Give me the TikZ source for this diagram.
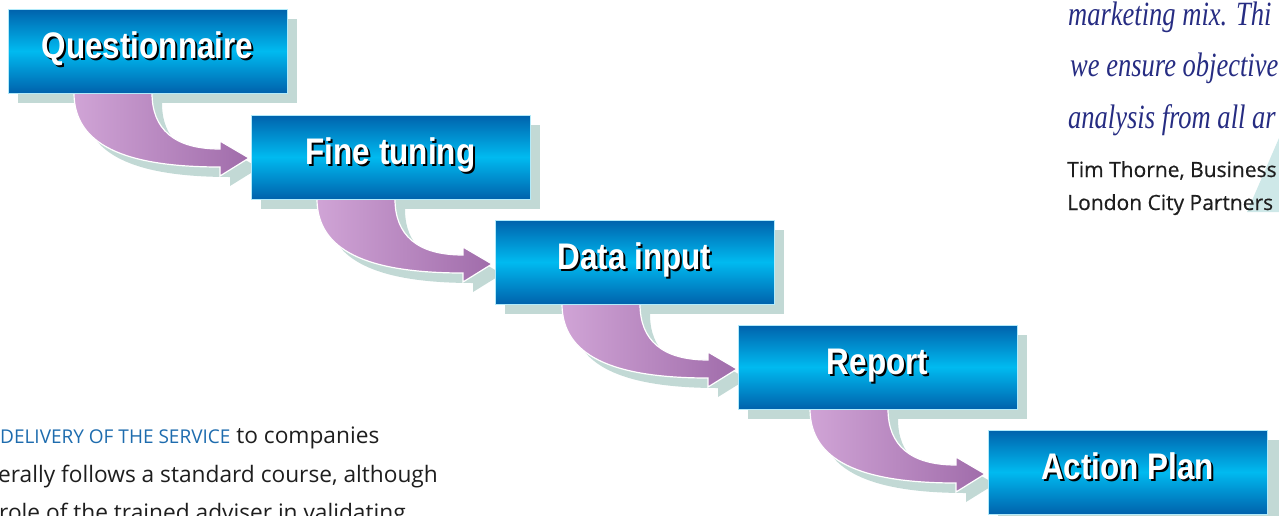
\documentclass[tikz,border=0pt]{standalone}
\usepackage{fontspec}
\usetikzlibrary{calc}
\setmainfont{Liberation Serif}
\newfontfamily\boxfont[FakeStretch=0.85]{Liberation Sans}
\newfontfamily\quotefont[FakeStretch=0.78]{Liberation Serif}
\newfontfamily\bodyfont{Open Sans}
\newfontfamily\attribfont[FakeBold=0.5]{Open Sans}
\definecolor{boxdark}{RGB}{0,98,172}
\definecolor{boxlight}{RGB}{0,186,240}
\definecolor{shadowc}{RGB}{194,217,213}
\definecolor{arrowlight}{RGB}{208,164,214}
\definecolor{arrowdark}{RGB}{160,108,170}
\definecolor{quotec}{RGB}{38,44,130}
\definecolor{delivc}{RGB}{30,108,174}
\definecolor{bodyc}{RGB}{30,30,30}
\definecolor{tealc}{RGB}{206,232,232}
\pgfdeclarelayer{shadowlayer}
\pgfdeclarelayer{arrowlayer}
\pgfsetlayers{shadowlayer,arrowlayer,main}
\newcommand\flowpath{(0,-3) -- (78,-3) -- (78,0) .. controls (78,36) and (100,56) .. (146,56) -- (146,48) -- (175,65) -- (146,83) -- (146,74) .. controls (51,74) and (0,52) .. (0,0) -- cycle}
\begin{document}
\begin{tikzpicture}[x=1pt,y=-1pt,
  stepbox/.style={draw=white!70!boxlight, line width=0.8pt, top color=boxdark, bottom color=boxdark, middle color=boxlight, minimum width=279pt, minimum height=84pt, inner sep=0pt, outer sep=0pt, anchor=north west},
  boxshade/.style={fill=shadowc, minimum width=279pt, minimum height=84pt, inner sep=0pt, outer sep=0pt, anchor=north west},
  boxlabel/.style={font=\boxfont\bfseries\fontsize{37}{40}\selectfont, text=white, anchor=base, inner sep=0pt},
  labelshade/.style={boxlabel, text=black},
  arrowbody/.style={left color=arrowlight, right color=arrowdark, draw=white, line width=1.2pt, line join=miter},
  arrowshade/.style={fill=shadowc},
  quotetext/.style={font=\quotefont\itshape\fontsize{34}{38}\selectfont, text=quotec, anchor=base west, inner sep=0pt},
  attrib/.style={font=\attribfont\fontsize{21}{24}\selectfont, text=bodyc, anchor=base west, inner sep=0pt},
  bodytext/.style={font=\bodyfont\fontsize{22.7}{26}\selectfont, text=bodyc, anchor=base west, inner sep=0pt}]
\useasboundingbox (0,0) rectangle (1279,515);
\clip (0,0) rectangle (1279,515);

% boxes
\node[stepbox] (q1) at (8,9) {};
\node[stepbox] (q2) at (251,115) {};
\node[stepbox] (q3) at (495,220) {};
\node[stepbox] (q4) at (738,325) {};
\node[stepbox] (q5) at (988,430) {};

% box shadows
\begin{pgfonlayer}{shadowlayer}
\foreach \n in {q1,q2,q3,q4,q5}
  \node[boxshade] (s\n) at ($(\n.north west)+(10,10)$) {};
\node[boxshade] (sq5b) at ($(q5.north west)+(13,10)$) {};
\end{pgfonlayer}

% arrows
\foreach \a/\b/\o in {q1/q2/66, q2/q3/66, q3/q4/67, q4/q5/72} {
  \begin{pgfonlayer}{shadowlayer}
  \begin{scope}[shift={($(\a.south west)+(\o+10,10)$)}]
    \fill[arrowshade] \flowpath;
  \end{scope}
  \end{pgfonlayer}
  \begin{pgfonlayer}{arrowlayer}
  \begin{scope}[shift={($(\a.south west)+(\o,0)$)}]
    \path[arrowbody] \flowpath;
  \end{scope}
  \end{pgfonlayer}
}

% labels
\node[labelshade] (l1s) at ($(q1.center)+(2,9)$) {Questionnaire};
\node[boxlabel] (l1) at ($(q1.center)+(0,7)$) {Questionnaire};
\node[labelshade] (l2s) at ($(q2.center)+(2,9)$) {Fine tuning};
\node[boxlabel] (l2) at ($(q2.center)+(0,7)$) {Fine tuning};
\node[labelshade] (l3s) at ($(q3.center)+(2,9)$) {Data input};
\node[boxlabel] (l3) at ($(q3.center)+(0,7)$) {Data input};
\node[labelshade] (l4s) at ($(q4.center)+(2,9)$) {Report};
\node[boxlabel] (l4) at ($(q4.center)+(0,7)$) {Report};
\node[labelshade] (l5s) at ($(q5.center)+(2,9)$) {Action Plan};
\node[boxlabel] (l5) at ($(q5.center)+(0,7)$) {Action Plan};

% quote
\fill[tealc] (1279,138) -- (1247,212) -- (1279,212) -- cycle;
\node[quotetext] (m1) at (1068,25) {marketing mix. Thi};
\node[quotetext] (m2) at (1070,76) {we ensure objective};
\node[quotetext] (m3) at (1068,128) {analysis from all ar};
\node[attrib] (a1) at (1067,177) {Tim Thorne, Business};
\node[attrib] (a2) at (1067,210) {London City Partners};

% body text
\node[bodytext] (p1) at (0,443) {{\fontsize{19}{20}\selectfont\color{delivc}DELIVERY OF THE SERVICE} to companies};
\node[bodytext] (p2) at (-2,482) {erally follows a standard course, although};
\node[bodytext] (p3) at (-1,520) {role of the trained adviser in validating};
\end{tikzpicture}
\end{document}
